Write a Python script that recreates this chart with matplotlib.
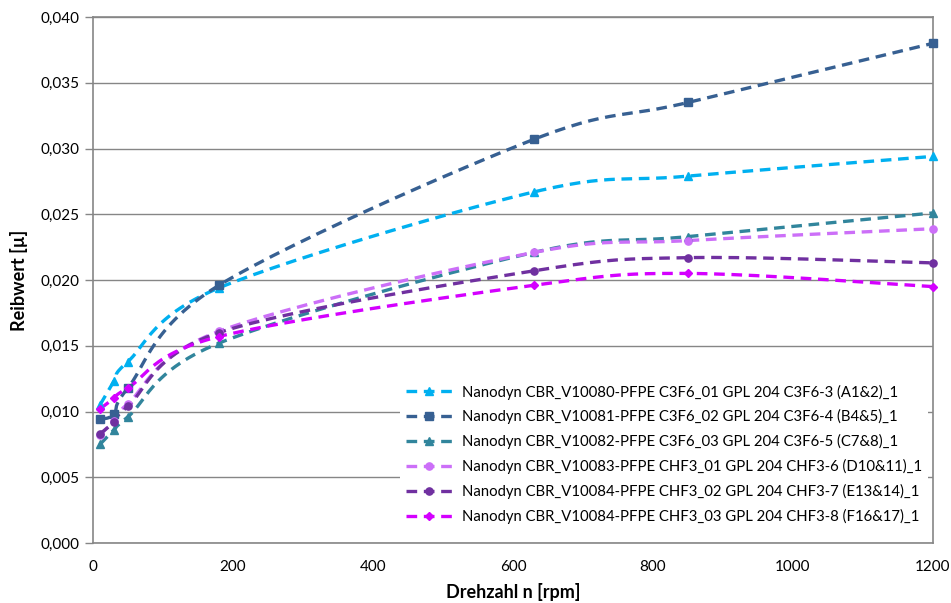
# -*- coding: utf-8 -*-
"""
Reibwert ueber Drehzahl
"""

import numpy as np
import matplotlib
matplotlib.use('Agg')
from matplotlib import pyplot as plt


# Drehzahl n [rpm]
drehzahl = [10, 30, 50, 180, 630, 850, 1200]

# Reibwert per series
a1 = [0.0105, 0.0123, 0.0138, 0.0194, 0.0267, 0.0279, 0.0294]
b4 = [0.0094, 0.0098, 0.0118, 0.0196, 0.0307, 0.0335, 0.0380]
c7 = [0.0075, 0.0086, 0.0096, 0.0152, 0.0221, 0.0233, 0.0251]
d10 = [0.0082, 0.0093, 0.0106, 0.0161, 0.0221, 0.0230, 0.0239]
e13 = [0.0083, 0.0092, 0.0104, 0.0160, 0.0207, 0.0217, 0.0213]
f16 = [0.0102, 0.0110, 0.0118, 0.0157, 0.0196, 0.0205, 0.0195]

labels = [
    'Nanodyn CBR_V10080-PFPE C3F6_01 GPL 204 C3F6-3 (A1&2)_1',
    'Nanodyn CBR_V10081-PFPE C3F6_02 GPL 204 C3F6-4 (B4&5)_1',
    'Nanodyn CBR_V10082-PFPE C3F6_03 GPL 204 C3F6-5 (C7&8)_1',
    'Nanodyn CBR_V10083-PFPE CHF3_01 GPL 204 CHF3-6 (D10&11)_1',
    'Nanodyn CBR_V10084-PFPE CHF3_02 GPL 204 CHF3-7 (E13&14)_1',
    'Nanodyn CBR_V10084-PFPE CHF3_03 GPL 204 CHF3-8 (F16&17)_1',
]
serien = [a1, b4, c7, d10, e13, f16]
farben = ['#00B0F0', '#376092', '#31859C', '#CC6FF8', '#7030A0', '#D400FF']
marker = ['^', 's', '^', 'o', 'o', 'D']

x_ticks = [0, 200, 400, 600, 800, 1000, 1200]
y_ticks = [0.000, 0.005, 0.010, 0.015, 0.020, 0.025, 0.030, 0.035, 0.040]


def glatt(x, y, xmax=1200.0, ymax=0.040, n=30):
    # Excel-like smoothed line (bezier through the points, in screen scale)
    px = np.asarray(x, float) / xmax * 840
    py = np.asarray(y, float) / ymax * 526
    P = np.column_stack([px, py])
    out = []
    for i in range(len(P) - 1):
        p0 = P[i - 1] if i > 0 else P[i]
        p1, p2 = P[i], P[i + 1]
        p3 = P[i + 2] if i + 2 < len(P) else P[i + 1]
        c1 = p1 + (p2 - p0) / 6.0
        c2 = p2 - (p3 - p1) / 6.0
        t = np.linspace(0, 1, n)[:, None]
        seg = ((1 - t) ** 3) * p1 + 3 * ((1 - t) ** 2) * t * c1 \
            + 3 * (1 - t) * t ** 2 * c2 + t ** 3 * p2
        out.append(seg if i == 0 else seg[1:])
    out = np.vstack(out)
    return out[:, 0] / 840 * xmax, out[:, 1] / 526 * ymax


plt.rcParams['font.family'] = ['Lato', 'DejaVu Sans']

fig = plt.figure(figsize=(9.51, 6.03), dpi=100)
ax = fig.add_axes([93 / 951, 60 / 603, 840 / 951, 526 / 603])

grau = '#868686'
for y, farbe, m, lab in zip(serien, farben, marker, labels):
    ms = 5.2 if m != 'D' else 4.2
    xs, ys = glatt(drehzahl, y)
    ax.plot(xs, ys, color=farbe, lw=2.4, ls=(0, (3.2, 2.0)),
            dash_capstyle='butt', clip_on=False, zorder=3)
    ax.plot(drehzahl, y, ls='none', marker=m, color=farbe,
            ms=ms, clip_on=False, zorder=4)
    # legend proxy
    ax.plot([], [], color=farbe, lw=2.4, ls=(0, (3.2, 2.0)),
            marker=m, ms=ms, label=lab)

ax.set_xlim(0, 1200)
ax.set_ylim(0, 0.040)
ax.set_xticks(x_ticks)
ax.set_yticks(y_ticks)
ax.set_yticklabels([('%.3f' % v).replace('.', ',') for v in y_ticks])
ax.tick_params(axis='x', length=0, pad=12, labelsize=11)
ax.tick_params(axis='y', length=6, width=1, color=grau, direction='out',
               pad=4, labelsize=11)
ax.grid(axis='y', color=grau, lw=1)
ax.set_axisbelow(True)
for s in ax.spines.values():
    s.set_color(grau)
    s.set_linewidth(1.2)

ax.set_xlabel('Drehzahl n [rpm]', fontsize=13, fontweight='bold', labelpad=7)
ax.set_ylabel('Reibwert [µ]', fontsize=13, fontweight='bold', labelpad=9)

leg = ax.legend(loc='lower left', bbox_to_anchor=(0.365, 0.025),
                fontsize=10.7, frameon=True, fancybox=False,
                handlelength=3.2, handletextpad=0.6, labelspacing=0.66,
                borderpad=0.4, borderaxespad=0)
leg.get_frame().set_edgecolor('none')
leg.get_frame().set_facecolor('white')
leg.get_frame().set_alpha(1)

plt.savefig('out.png', dpi=100)
